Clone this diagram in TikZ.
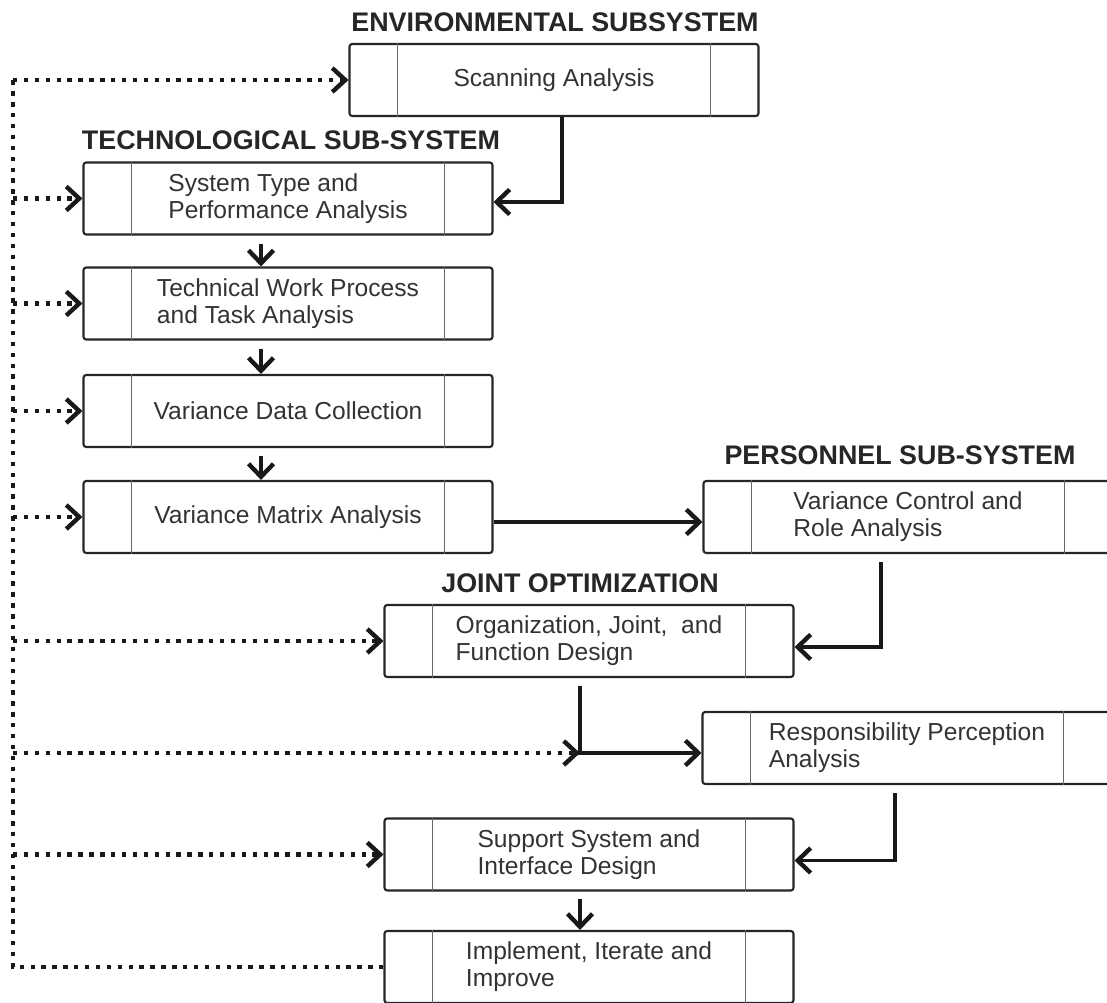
\documentclass[tikz,border=0pt]{standalone}
\usepackage{fontspec}
\setmainfont{Liberation Sans}
\usetikzlibrary{arrows.meta}
\tikzset{
  stage/.style={draw=black!85,line width=1.2pt,rounded corners=1.5pt,minimum width=8.18cm,minimum height=1.44cm,inner sep=0pt,align=left,text=black!80,font=\fontsize{14}{15.5}\selectfont},
  heading/.style={font=\bfseries\fontsize{15.3}{17}\selectfont,text=black!85},
  divider/.style={draw=black!60,line width=0.7pt},
  flow/.style={draw=black!90,line width=2.1pt,-{Straight Barb[length=0.26cm,width=0.5cm,line width=2.5pt]}},
  feedback/.style={draw=black!90,line width=2.5pt,dash pattern=on 2.5pt off 3.7pt},
  fbtip/.style={-{Straight Barb[length=0.26cm,width=0.48cm,line width=2.5pt]}}
}
\begin{document}
\begin{tikzpicture}[x=0.02cm,y=-0.02cm]
\useasboundingbox (0,0) rectangle (1107,1003);
% titles
\node[heading] (envt) at (555,22) {ENVIRONMENTAL SUBSYSTEM};
\node[heading] (techt) at (291,140) {TECHNOLOGICAL SUB-SYSTEM};
\node[heading] (perst) at (900,455) {PERSONNEL SUB-SYSTEM};
\node[heading] (jointt) at (580,583) {JOINT OPTIMIZATION};
% stages
\node[stage] (scan) at (554,80) {Scanning Analysis};
\node[stage] (sys) at (288,198.5) {System Type and\\Performance Analysis};
\node[stage] (tech) at (288,303.5) {Technical Work Process\\and Task Analysis};
\node[stage] (vdc) at (288,411) {Variance Data Collection};
\node[stage] (vma) at (288,517) {Variance Matrix Analysis};
\node[stage] (vcr) at (908,517) {Variance Control and\\Role Analysis};
\node[stage] (org) at (589,641) {Organization, Joint,\ \ and\\Function Design};
\node[stage] (resp) at (907,748) {Responsibility Perception\\Analysis};
\node[stage] (sup) at (589,854.5) {Support System and\\Interface Design};
\node[stage] (imp) at (589,967) {Implement, Iterate and\\Improve};
\foreach \n in {scan,sys,tech,vdc,vma,vcr,org,resp,sup,imp}
  \draw[divider] ([xshift=0.98cm]\n.north west) -- ([xshift=0.98cm]\n.south west)
    ([xshift=-0.98cm]\n.north east) -- ([xshift=-0.98cm]\n.south east);
% main flow
\draw[flow] ([xshift=0.16cm]scan.south) |- ([yshift=-0.07cm]sys.east);
\foreach \a/\b in {sys/tech,tech/vdc,vdc/vma}
  \draw[flow,shorten <=0.16cm] ([xshift=-0.54cm]\a.south) -- ([xshift=-0.54cm]\b.north);
\draw[flow] ([yshift=-0.1cm]vma.east) -- ([yshift=-0.1cm]vcr.west);
\draw[flow,shorten <=0.16cm] ([xshift=-0.54cm]vcr.south) |- ([yshift=-0.12cm]org.east);
\draw[flow,shorten <=0.16cm] ([xshift=-0.18cm]org.south) |- ([yshift=-0.1cm]resp.west);
\draw[flow,shorten <=0.16cm] ([xshift=-0.24cm]resp.south) |- ([yshift=-0.12cm]sup.east);
\draw[flow,shorten <=0.14cm] ([xshift=-0.18cm]sup.south) -- ([xshift=-0.18cm]imp.north);
% feedback loop
\coordinate (fbtop) at (13,80);
\coordinate (fbbot) at (13,967);
\coordinate (jn) at (580,753);
\draw[feedback] (imp.west) -- (fbbot) -- (fbtop);
\foreach \n in {scan,sys,tech,vdc,vma,org,sup}
  \draw[feedback,fbtip] (fbtop |- \n.west) -- (\n.west);
\draw[feedback,fbtip] (fbtop |- jn) -- (jn);
\end{tikzpicture}
\end{document}
